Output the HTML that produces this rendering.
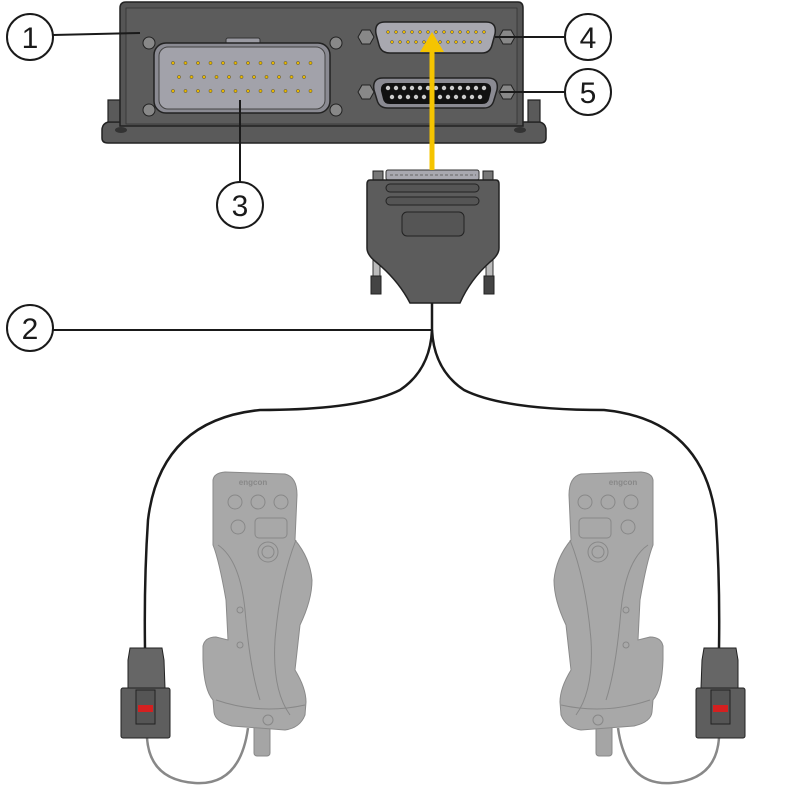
<!DOCTYPE html>
<html><head><meta charset="utf-8"><style>html,body{margin:0;padding:0;background:#fff}svg{display:block}</style></head>
<body>
<svg width="799" height="792" viewBox="0 0 799 792" xmlns="http://www.w3.org/2000/svg" font-family="Liberation Sans, sans-serif">
<!-- base flange -->
<path d="M108,122 L540,122 Q546,124 546,130 L546,138 Q546,143 540,143 L108,143 Q102,143 102,138 L102,130 Q102,124 108,122 Z" fill="#5a5a5a" stroke="#222" stroke-width="1.5"/>
<path d="M108,100 L120,100 L120,122 L108,122 Z M528,100 L540,100 L540,122 L528,122 Z" fill="#5a5a5a" stroke="#222" stroke-width="1.2"/>
<ellipse cx="121" cy="130" rx="6" ry="3" fill="#333"/><ellipse cx="520" cy="130" rx="6" ry="3" fill="#333"/>
<!-- body -->
<path d="M126,2 L518,2 Q523,2 523,8 L523,126 L120,126 L120,8 Q120,2 126,2 Z" fill="#555" stroke="#222" stroke-width="1.5"/>
<path d="M126,8 L517,8 L517,124 L126,124 Z" fill="#5c5c5c" stroke="#333" stroke-width="0.8"/>
<!-- big connector -->
<rect x="226" y="38" width="34" height="6" rx="2" fill="#9a9aa2" stroke="#333"/>
<rect x="154" y="43" width="176" height="70" rx="12" fill="#8a8a92" stroke="#222" stroke-width="1.5"/>
<rect x="159" y="47" width="166" height="62" rx="9" fill="#a2a2aa" stroke="#444"/>
<g fill="#e8b800" stroke="#333" stroke-width="0.4">
<circle cx="173" cy="63" r="1.6"/><circle cx="185.5" cy="63" r="1.6"/><circle cx="198" cy="63" r="1.6"/><circle cx="210.5" cy="63" r="1.6"/><circle cx="223" cy="63" r="1.6"/><circle cx="235.5" cy="63" r="1.6"/><circle cx="248" cy="63" r="1.6"/><circle cx="260.5" cy="63" r="1.6"/><circle cx="273" cy="63" r="1.6"/><circle cx="285.5" cy="63" r="1.6"/><circle cx="298" cy="63" r="1.6"/><circle cx="310.5" cy="63" r="1.6"/>
<circle cx="179" cy="77" r="1.6"/><circle cx="191.5" cy="77" r="1.6"/><circle cx="204" cy="77" r="1.6"/><circle cx="216.5" cy="77" r="1.6"/><circle cx="229" cy="77" r="1.6"/><circle cx="241.5" cy="77" r="1.6"/><circle cx="254" cy="77" r="1.6"/><circle cx="266.5" cy="77" r="1.6"/><circle cx="279" cy="77" r="1.6"/><circle cx="291.5" cy="77" r="1.6"/><circle cx="304" cy="77" r="1.6"/>
<circle cx="173" cy="91" r="1.6"/><circle cx="185.5" cy="91" r="1.6"/><circle cx="198" cy="91" r="1.6"/><circle cx="210.5" cy="91" r="1.6"/><circle cx="223" cy="91" r="1.6"/><circle cx="235.5" cy="91" r="1.6"/><circle cx="248" cy="91" r="1.6"/><circle cx="260.5" cy="91" r="1.6"/><circle cx="273" cy="91" r="1.6"/><circle cx="285.5" cy="91" r="1.6"/><circle cx="298" cy="91" r="1.6"/><circle cx="310.5" cy="91" r="1.6"/>
</g>
<g fill="#888" stroke="#222" stroke-width="1"><circle cx="149" cy="43" r="6"/><circle cx="336" cy="43" r="6"/><circle cx="149" cy="110" r="6"/><circle cx="336" cy="110" r="6"/></g>
<!-- DB25 upper -->
<g fill="#888" stroke="#222" stroke-width="1">
<polygon points="358,37 362,30 370,30 374,37 370,44 362,44"/><polygon points="499,37 503,30 511,30 515,37 511,44 503,44"/>
<polygon points="358,92 362,85 370,85 374,92 370,99 362,99"/><polygon points="499,92 503,85 511,85 515,92 511,99 503,99"/>
</g>
<path d="M385,22 L486,22 Q497,22 495,34 L492,45 Q490,53 482,53 L390,53 Q381,53 379,45 L376,34 Q374,22 385,22 Z" fill="#a8a8b0" stroke="#222" stroke-width="1.5"/>
<path d="M383,78 L488,78 Q499,78 497,90 L494,100 Q492,108 484,108 L388,108 Q379,108 377,100 L374,90 Q372,78 383,78 Z" fill="#8a8a92" stroke="#222" stroke-width="1.5"/>
<path d="M388,83 L484,83 Q492,83 491,91 L489,99 Q488,104 482,104 L390,104 Q384,104 383,99 L381,91 Q380,83 388,83 Z" fill="#111"/>
<g fill="#e8b800" stroke="#333" stroke-width="0.4">
<circle cx="388" cy="32" r="1.5"/><circle cx="396" cy="32" r="1.5"/><circle cx="404" cy="32" r="1.5"/><circle cx="412" cy="32" r="1.5"/><circle cx="420" cy="32" r="1.5"/><circle cx="428" cy="32" r="1.5"/><circle cx="436" cy="32" r="1.5"/><circle cx="444" cy="32" r="1.5"/><circle cx="452" cy="32" r="1.5"/><circle cx="460" cy="32" r="1.5"/><circle cx="468" cy="32" r="1.5"/><circle cx="476" cy="32" r="1.5"/><circle cx="484" cy="32" r="1.5"/>
<circle cx="392" cy="42" r="1.5"/><circle cx="400" cy="42" r="1.5"/><circle cx="408" cy="42" r="1.5"/><circle cx="416" cy="42" r="1.5"/><circle cx="424" cy="42" r="1.5"/><circle cx="440" cy="42" r="1.5"/><circle cx="448" cy="42" r="1.5"/><circle cx="456" cy="42" r="1.5"/><circle cx="464" cy="42" r="1.5"/><circle cx="472" cy="42" r="1.5"/><circle cx="480" cy="42" r="1.5"/>
</g>
<g fill="#ccc">
<circle cx="388" cy="88" r="2.2"/><circle cx="396" cy="88" r="2.2"/><circle cx="404" cy="88" r="2.2"/><circle cx="412" cy="88" r="2.2"/><circle cx="420" cy="88" r="2.2"/><circle cx="428" cy="88" r="2.2"/><circle cx="436" cy="88" r="2.2"/><circle cx="444" cy="88" r="2.2"/><circle cx="452" cy="88" r="2.2"/><circle cx="460" cy="88" r="2.2"/><circle cx="468" cy="88" r="2.2"/><circle cx="476" cy="88" r="2.2"/><circle cx="484" cy="88" r="2.2"/>
<circle cx="392" cy="97" r="2.2"/><circle cx="400" cy="97" r="2.2"/><circle cx="408" cy="97" r="2.2"/><circle cx="416" cy="97" r="2.2"/><circle cx="424" cy="97" r="2.2"/><circle cx="440" cy="97" r="2.2"/><circle cx="448" cy="97" r="2.2"/><circle cx="456" cy="97" r="2.2"/><circle cx="464" cy="97" r="2.2"/><circle cx="472" cy="97" r="2.2"/><circle cx="480" cy="97" r="2.2"/>
</g>
<!-- plug -->
<rect x="373" y="171" width="10" height="12" fill="#777" stroke="#222"/><rect x="483" y="171" width="10" height="12" fill="#777" stroke="#222"/>
<rect x="386" y="170" width="93" height="10" rx="2" fill="#a8a8b0" stroke="#333"/>
<line x1="390" y1="175" x2="476" y2="175" stroke="#666" stroke-dasharray="3,2"/>
<rect x="373" y="250" width="7" height="30" fill="#bbb" stroke="#333"/><rect x="486" y="250" width="7" height="30" fill="#bbb" stroke="#333"/>
<rect x="371" y="276" width="10" height="18" fill="#444" stroke="#222"/><rect x="484" y="276" width="10" height="18" fill="#444" stroke="#222"/>
<path d="M370,180 L496,180 Q499,180 499,184 L499,248 Q499,255 490,262 Q470,280 460,303 L410,303 Q398,280 376,262 Q367,255 367,248 L367,184 Q367,180 370,180 Z" fill="#5c5c5c" stroke="#222" stroke-width="1.5"/>
<rect x="386" y="184" width="93" height="8" rx="4" fill="#555" stroke="#222"/>
<rect x="386" y="197" width="93" height="8" rx="4" fill="#555" stroke="#222"/>
<rect x="402" y="212" width="62" height="24" rx="5" fill="#555" stroke="#222"/>
<!-- yellow arrow -->
<line x1="432" y1="170" x2="432" y2="48" stroke="#f5c400" stroke-width="5"/>
<polygon points="420,52 444,52 432,32" fill="#f5c400"/>
<!-- cables -->
<g fill="none" stroke="#1a1a1a" stroke-width="2.5">
<path d="M432,303 L432,330 Q430,370 400,390 Q360,410 260,410 Q160,420 148,520 Q144,580 145,648"/>
<path d="M432,330 Q434,370 464,390 Q504,410 604,410 Q704,420 716,520 Q720,580 719,648"/>
</g>
<g fill="none" stroke="#888" stroke-width="2.5">
<path d="M147,738 Q150,780 195,783 Q240,786 248,728"/>
<path d="M719,738 Q716,780 671,783 Q626,786 618,728"/>
</g>
<!-- joysticks -->
<g id="js">
<rect x="254" y="722" width="16" height="34" rx="3" fill="#a5a5a5" stroke="#888"/>
<path d="M213,480 Q214,473 225,472 L285,474 Q297,477 297,495 L295,540 Q310,558 312,580 Q312,600 300,625 L295,670 Q306,688 306,702 L305,715 Q300,728 285,730 L232,726 Q215,722 214,712 L213,700 Q204,690 203,660 L203,646 Q205,637 216,637 L228,640 L226,600 Q219,560 213,545 Z" fill="#a8a8a8" stroke="#8a8a8a"/>
<g fill="none" stroke="#888" stroke-width="1">
<circle cx="235" cy="502" r="7"/><circle cx="258" cy="502" r="7"/><circle cx="281" cy="502" r="7"/><circle cx="238" cy="527" r="7"/>
<rect x="255" y="518" width="32" height="20" rx="4"/><circle cx="268" cy="552" r="10"/><circle cx="268" cy="552" r="6"/>
<path d="M218,545 Q240,560 245,610 Q250,670 260,700"/><path d="M296,540 Q280,580 275,640 Q272,690 290,715"/>
<path d="M216,700 Q260,715 305,705"/>
<circle cx="240" cy="610" r="3"/><circle cx="240" cy="645" r="3"/><circle cx="268" cy="720" r="5"/>
</g>
<!-- connector -->
<path d="M130,648 L162,648 L164,660 L165,688 L128,688 L128,660 Z" fill="#666" stroke="#222"/>
<rect x="121" y="688" width="49" height="50" rx="2" fill="#5e5e5e" stroke="#222"/>
<rect x="136" y="690" width="19" height="34" fill="#555" stroke="#222"/>
<rect x="138" y="705" width="15" height="7" fill="#d42020"/>
</g>
<use href="#js" transform="translate(866,0) scale(-1,1)"/>
<text x="253" y="485" font-size="8" font-weight="bold" fill="#888" text-anchor="middle">engcon</text>
<text x="623" y="485" font-size="8" font-weight="bold" fill="#888" text-anchor="middle">engcon</text>
<!-- callouts -->
<g stroke="#1a1a1a" stroke-width="2" fill="none">
<line x1="53" y1="35" x2="140" y2="33"/><line x1="495" y1="37" x2="565" y2="37"/><line x1="500" y1="92" x2="565" y2="92"/>
<line x1="240" y1="100" x2="240" y2="182"/><line x1="53" y1="330" x2="432" y2="330"/>
</g>
<g stroke="#1a1a1a" stroke-width="2" fill="#fff">
<circle cx="30" cy="37" r="23"/><circle cx="588" cy="37" r="23"/><circle cx="588" cy="92" r="23"/><circle cx="240" cy="205" r="23"/><circle cx="30" cy="328" r="23"/>
</g>
<g font-size="30" text-anchor="middle" fill="#1a1a1a">
<text x="30" y="48">1</text><text x="588" y="48">4</text><text x="588" y="103">5</text><text x="240" y="216">3</text><text x="30" y="339">2</text>
</g>
</svg>
</body></html>
